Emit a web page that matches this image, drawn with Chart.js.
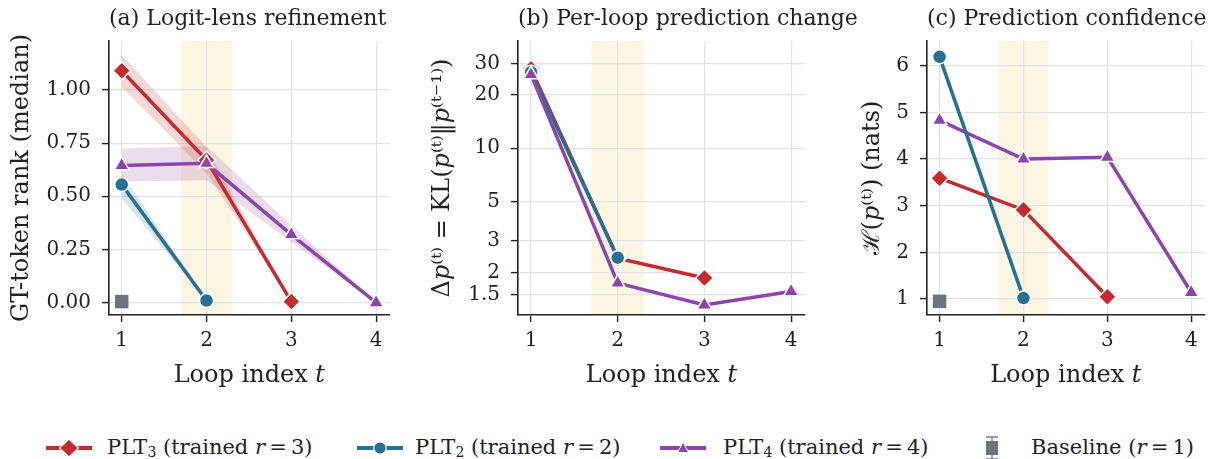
<!DOCTYPE html>
<html>
<head>
<meta charset="utf-8">
<script src="https://cdn.jsdelivr.net/npm/chart.js@4.4.1/dist/chart.umd.min.js"></script>
<style>
  html, body { margin: 0; padding: 0; background: #fff; }
  body { width: 1215px; height: 459px; position: relative; overflow: hidden; font-family: 'DejaVu Serif', serif; color: #222; }
  canvas { position: absolute; top: 0; }
  .lg-icon { position: absolute; top: 433px; }
  .lg-text { position: absolute; top: 432px; height: 30px; line-height: 30px; font-size: 21px; white-space: nowrap; }
  .lg-text sub { font-size: 14px; vertical-align: -3px; line-height: 0; }
</style>
</head>
<body>
<canvas id="chartA" width="400" height="400" style="left:0px"></canvas>
<canvas id="chartB" width="460" height="400" style="left:410px"></canvas>
<canvas id="chartC" width="395" height="400" style="left:820px"></canvas>
<div id="legend"></div>
<script>
// loop index on the x axis
const loops = [1, 2, 3, 4];
const xTicks = [1, 2, 3, 4];
const highlight = [1.7, 2.3];

// (a) GT-token rank (median), with shaded spread
const rankPLT3 = [1.09, 0.67, 0.005];
const rankPLT3Lo = [1.015, 0.61, 0.005];
const rankPLT3Hi = [1.165, 0.73, 0.005];
const rankPLT2 = [0.555, 0.01];
const rankPLT2Lo = [0.49, 0.01];
const rankPLT2Hi = [0.61, 0.01];
const rankPLT4 = [0.645, 0.655, 0.32, 0.0];
const rankPLT4Lo = [0.57, 0.575, 0.285, 0.0];
const rankPLT4Hi = [0.725, 0.735, 0.365, 0.0];
const rankBase = [0.005];
const rankTicks = [0, 0.25, 0.5, 0.75, 1.0];

// (b) KL between successive loops (log axis)
const klPLT3 = [28, 2.4, 1.86];
const klPLT2 = [26.8, 2.42];
const klPLT4 = [26, 1.74, 1.31, 1.56];
const klTicks = [1.5, 2, 3, 5, 10, 20, 30];

// (c) prediction entropy (nats)
const entPLT3 = [3.59, 2.91, 1.05];
const entPLT2 = [6.19, 1.02];
const entPLT4 = [4.83, 4.0, 4.04, 1.14];
const entBase = [0.95];
const entTicks = [1, 2, 3, 4, 5, 6];

const RED = '#c62a2f', BLUE = '#266f95', PURPLE = '#8e44ad', GRAY = '#6c757d';
const BAND = '#fdf6e2', GRID = '#e3e3e3', INK = '#222';
const FONT = "'DejaVu Serif', serif";

const pts = (ys) => ys.map((y, i) => ({ x: loops[i], y }));

function lineSet(label, ys, color, shape, r, order) {
  return {
    label, data: pts(ys), order, clip: false,
    borderColor: color, backgroundColor: color, borderWidth: 3.5, tension: 0, fill: false,
    pointStyle: shape, pointRadius: r, pointBackgroundColor: color,
    pointBorderColor: '#fff', pointBorderWidth: 1.5
  };
}

function baseSet(ys) {
  return {
    label: 'Baseline', data: pts(ys), order: 0, clip: false, showLine: false,
    pointStyle: 'rect', pointRadius: 9.5, pointBackgroundColor: GRAY, pointBorderWidth: 0
  };
}

function bandSets(lo, hi, fillColor, order) {
  return [
    { data: pts(lo), order, borderWidth: 0, borderColor: 'transparent', pointRadius: 0, fill: false },
    { data: pts(hi), order, borderWidth: 0, borderColor: 'transparent', pointRadius: 0, fill: '-1', backgroundColor: fillColor }
  ];
}

const highlightPlugin = {
  id: 'highlight',
  beforeDraw(chart) {
    const { ctx, chartArea, scales } = chart;
    const x0 = scales.x.getPixelForValue(highlight[0]);
    const x1 = scales.x.getPixelForValue(highlight[1]);
    ctx.save();
    ctx.fillStyle = BAND;
    ctx.fillRect(x0, chartArea.top, x1 - x0, chartArea.bottom - chartArea.top);
    ctx.restore();
  }
};

// title starts at the plot's left edge but may run past its right edge
const titleWiden = {
  id: 'titleWiden',
  afterLayout(chart) {
    if (chart.titleBlock) chart.titleBlock.right = chart.width;
  }
};

function axisCommon() {
  return {
    grid: { color: GRID, lineWidth: 1.2, tickLength: 7, tickColor: INK, tickWidth: 1.4 },
    border: { color: INK, width: 1.6 }
  };
}

function makePanel(id, opts) {
  const x = Object.assign(axisCommon(), {
    type: 'linear', min: 0.85, max: 4.16,
    afterBuildTicks: s => { s.ticks = xTicks.map(v => ({ value: v })); },
    afterFit: s => { s.height = 85; },
    ticks: { color: INK, font: { family: FONT, size: 20 }, padding: 7, maxRotation: 0, callback: v => String(v) },
    title: { display: true, text: 'Loop index 𝑡', color: INK, font: { family: FONT, size: 24 }, padding: { top: 0, bottom: 10 } }
  });
  const y = Object.assign(axisCommon(), {
    type: opts.yType, min: opts.yMin, max: opts.yMax,
    afterBuildTicks: s => { s.ticks = opts.yTicks.map(v => ({ value: v })); },
    afterFit: s => { s.width = opts.yWidth; },
    ticks: { color: INK, font: { family: FONT, size: 20 }, padding: 11, callback: opts.yFmt },
    title: { display: true, text: opts.yTitle, color: INK, font: { family: FONT, size: 24 }, padding: { top: opts.yTitlePad, bottom: 0 } }
  });
  return new Chart(document.getElementById(id), {
    type: 'line',
    data: { datasets: opts.datasets },
    options: {
      responsive: false, animation: false, events: [],
      layout: { padding: { left: 0, right: opts.padRight, top: 0, bottom: 0 } },
      scales: { x, y },
      plugins: {
        legend: { display: false },
        tooltip: { enabled: false },
        title: {
          display: true, text: opts.title, color: INK, fullSize: false, align: 'start',
          font: { family: FONT, size: 22, weight: 'normal' }, padding: { top: 6, bottom: 8.6 }
        }
      }
    },
    plugins: [highlightPlugin, titleWiden]
  });
}

makePanel('chartA', {
  title: '(a) Logit-lens refinement',
  yType: 'linear', yMin: -0.058, yMax: 1.23, yTicks: rankTicks, yFmt: v => Number(v).toFixed(2),
  yTitle: 'GT-token rank (median)', yTitlePad: 7.6, yWidth: 109, padRight: 4,
  datasets: [
    ...bandSets(rankPLT3Lo, rankPLT3Hi, 'rgba(198,42,47,0.18)', 10),
    ...bandSets(rankPLT2Lo, rankPLT2Hi, 'rgba(38,111,149,0.18)', 10),
    ...bandSets(rankPLT4Lo, rankPLT4Hi, 'rgba(142,68,173,0.18)', 10),
    lineSet('PLT3', rankPLT3, RED, 'rectRot', 8.8, 3),
    lineSet('PLT2', rankPLT2, BLUE, 'circle', 7, 2),
    lineSet('PLT4', rankPLT4, PURPLE, 'triangle', 8.5, 1),
    baseSet(rankBase)
  ]
});

makePanel('chartB', {
  title: '(b) Per-loop prediction change',
  yType: 'logarithmic', yMin: 1.15, yMax: 40.2, yTicks: klTicks, yFmt: v => String(v),
  yTitle: 'Δ𝑝⁽ᵗ⁾ = KL(𝑝⁽ᵗ⁾‖𝑝⁽ᵗ⁻¹⁾)', yTitlePad: 18, yWidth: 108, padRight: 65,
  datasets: [
    lineSet('PLT3', klPLT3, RED, 'rectRot', 8.8, 3),
    lineSet('PLT2', klPLT2, BLUE, 'circle', 7, 2),
    lineSet('PLT4', klPLT4, PURPLE, 'triangle', 8.5, 1)
  ]
});

makePanel('chartC', {
  title: '(c) Prediction confidence',
  yType: 'linear', yMin: 0.657, yMax: 6.53, yTicks: entTicks, yFmt: v => String(v),
  yTitle: 'ℋ(𝑝⁽ᵗ⁾) (nats)', yTitlePad: 38, yWidth: 107, padRight: 1,
  datasets: [
    lineSet('PLT3', entPLT3, RED, 'rectRot', 8.8, 3),
    lineSet('PLT4', entPLT4, PURPLE, 'triangle', 8.5, 2),
    lineSet('PLT2', entPLT2, BLUE, 'circle', 7, 1),
    baseSet(entBase)
  ]
});

// shared legend below the panels
const legendItems = [
  { html: 'PLT<sub>3</sub> (trained <i>r</i>\u2009=\u20093)', color: RED, shape: 'diamond', iconLeft: 46, textLeft: 107 },
  { html: 'PLT<sub>2</sub> (trained <i>r</i>\u2009=\u20092)', color: BLUE, shape: 'circle', iconLeft: 357, textLeft: 415 },
  { html: 'PLT<sub>4</sub> (trained <i>r</i>\u2009=\u20094)', color: PURPLE, shape: 'triangle', iconLeft: 660, textLeft: 723 },
  { html: 'Baseline (<i>r</i>\u2009=\u20091)', color: GRAY, shape: 'errbar', iconLeft: 969, textLeft: 1031 }
];

function iconSvg(it) {
  const c = it.color;
  let s = '';
  if (it.shape !== 'errbar') s += `<line x1="0" y1="15" x2="46" y2="15" stroke="${c}" stroke-width="4.2"/>`;
  if (it.shape === 'diamond') s += `<polygon points="23,6 32.5,15 23,24 13.5,15" fill="${c}" stroke="#fff" stroke-width="1.3"/>`;
  if (it.shape === 'circle') s += `<circle cx="23" cy="15" r="6.2" fill="${c}" stroke="#fff" stroke-width="1.2"/>`;
  if (it.shape === 'triangle') s += `<polygon points="23,9 28.5,19.5 17.5,19.5" fill="${c}" stroke="#fff" stroke-width="1"/>`;
  if (it.shape === 'errbar') {
    s += `<line x1="23" y1="4" x2="23" y2="26" stroke="${c}" stroke-width="1.2"/>`;
    s += `<line x1="17" y1="4" x2="29" y2="4" stroke="${c}" stroke-width="1.4"/>`;
    s += `<line x1="17" y1="26" x2="29" y2="26" stroke="${c}" stroke-width="1.4"/>`;
    s += `<rect x="17" y="8" width="12" height="14" fill="${c}"/>`;
  }
  return `<svg class="lg-icon" width="46" height="30" style="left:${it.iconLeft}px">${s}</svg>`;
}

document.getElementById('legend').innerHTML = legendItems.map(it =>
  iconSvg(it) + `<span class="lg-text" style="left:${it.textLeft}px">${it.html}</span>`
).join('');
</script>
</body>
</html>
